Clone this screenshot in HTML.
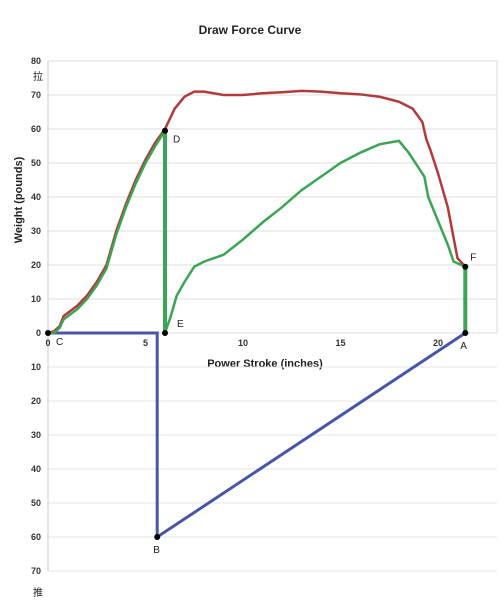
<!DOCTYPE html>
<html><head><meta charset="utf-8"><style>
body{margin:0;background:#fff;width:503px;height:600px;overflow:hidden}
svg{font-family:"Liberation Sans","Noto Sans CJK SC",sans-serif}
</style></head><body>
<svg id="c" width="503" height="600">
<text x="250" y="34" text-anchor="middle" font-size="12" font-weight="bold" fill="#222">Draw Force Curve</text>
<text x="265" y="367" text-anchor="middle" font-size="11" font-weight="bold" fill="#222">Power Stroke (inches)</text>
<text transform="translate(22,200) rotate(-90)" text-anchor="middle" font-size="11" font-weight="bold" fill="#222">Weight (pounds)</text>
<text x="33" y="80" font-size="10" fill="#222">拉</text>
<text x="33" y="596" font-size="10" fill="#222">推</text>
<g id="grid"></g><g id="marks"></g>
</svg>
<script>
const yTicksUp=[0,10,20,30,40,50,60,70,80];
const yTicksDown=[10,20,30,40,50,60,70];
const xTicks=[0,5,10,15,20];
const drawX=[0,0.3,0.6,0.8,1.5,2,2.5,3,3.5,4,4.5,5,5.5,6,6.5,7,7.5,8,9,10,11,12,13,14,15,16,17,18,18.7,19.2,19.4,19.6,20,20.5,20.8,21,21.4];
const drawY=[0,0.5,2,5,8,11,15,20,30,38,45,51,56,60,66,69.5,71,71,70,70,70.5,70.8,71.2,71,70.5,70.2,69.5,68,66,62,57,54,47,37,28,22,19.5];
const riseX=[0,0.3,0.6,0.8,1.5,2,2.5,3,3.5,4,4.5,5,5.5,6];
const riseY=[0,0,1.5,4,7,10,14,19,29,37,44,50,55,59.5];
const letX=[6,6.3,6.6,7,7.5,8,9,10,11,12,13,14,15,16,17,18,18.5,19.3,19.5,20,20.5,20.8,21.4];
const letY=[0,5,11,15,19.5,21,23,27.5,32.5,37,42,46,50,53,55.5,56.5,53,46,40,33,26,21,19.5];
const pushX=[0,5.6,5.6,21.4];
const pushY=[0,0,-60,0];
const pointNames=["C","D","E","F","A","B"];
const pointX=[0,6,6,21.4,21.4,5.6];
const pointY=[0,59.5,0,19.5,0,-60];
const sx=v=>48+v*19.5, sy=v=>333-v*3.4;
const NS="http://www.w3.org/2000/svg";
function mk(t,a,p){const e=document.createElementNS(NS,t);for(const k in a)e.setAttribute(k,a[k]);p.appendChild(e);return e;}
const g=document.getElementById('grid'),m=document.getElementById('marks');
yTicksUp.forEach(v=>{const l=mk('line',{x1:48,x2:497,y1:sy(v),y2:sy(v),stroke:'#ddd'},g);

const t=mk('text',{x:41,y:sy(v)+3,'text-anchor':'end','font-size':9,'font-weight':'bold',fill:'#333'},g);t.textContent=v;
});
yTicksDown.forEach(v=>{const l=mk('line',{x1:48,x2:497,y1:sy(-v),y2:sy(-v),stroke:'#e4e4e4'},g);

const t=mk('text',{x:41,y:sy(-v)+3,'text-anchor':'end','font-size':9,'font-weight':'bold',fill:'#333'},g);t.textContent=v;
});
const ax=mk('line',{x1:48,x2:48,y1:sy(80),y2:sy(-70),stroke:'#ccc'},g);

const rb=mk('line',{x1:497,x2:497,y1:sy(80),y2:sy(0),stroke:'#ddd'},g);

xTicks.forEach(v=>{const t=mk('text',{x:sx(v),y:346,'text-anchor':'middle','font-size':9,'font-weight':'bold',fill:'#333'},g);t.textContent=v;
});
const pts=(X,Y)=>X.map((x,i)=>sx(x)+','+sy(Y[i])).join(' ');
const p1=mk('polyline',{points:pts(pushX,pushY),fill:'none',stroke:'#4a55a8','stroke-width':3},m);

const p2=mk('polyline',{points:pts(drawX,drawY),fill:'none',stroke:'#b33a3a','stroke-width':2.5},m);

const p3=mk('polyline',{points:pts(riseX,riseY),fill:'none',stroke:'#3aa655','stroke-width':2.5},m);

const p4=mk('polyline',{points:pts(letX,letY),fill:'none',stroke:'#3aa655','stroke-width':2.5},m);

const v1=mk('line',{x1:sx(6),x2:sx(6),y1:sy(59.5),y2:sy(0),stroke:'#3aa655','stroke-width':4},m);

const v2=mk('line',{x1:sx(21.4),x2:sx(21.4),y1:sy(19.5),y2:sy(0),stroke:'#3aa655','stroke-width':4},m);

const off={C:[8,12],D:[8,12],E:[12,-6],F:[5,-6],A:[-5,16],B:[-4,16]};
pointNames.forEach((n,i)=>{const c=mk('circle',{cx:sx(pointX[i]),cy:sy(pointY[i]),r:3,fill:'#000'},m);

const t=mk('text',{x:sx(pointX[i])+off[n][0],y:sy(pointY[i])+off[n][1],'font-size':10,fill:'#222'},m);t.textContent=n;
});
</script>
</body></html>
